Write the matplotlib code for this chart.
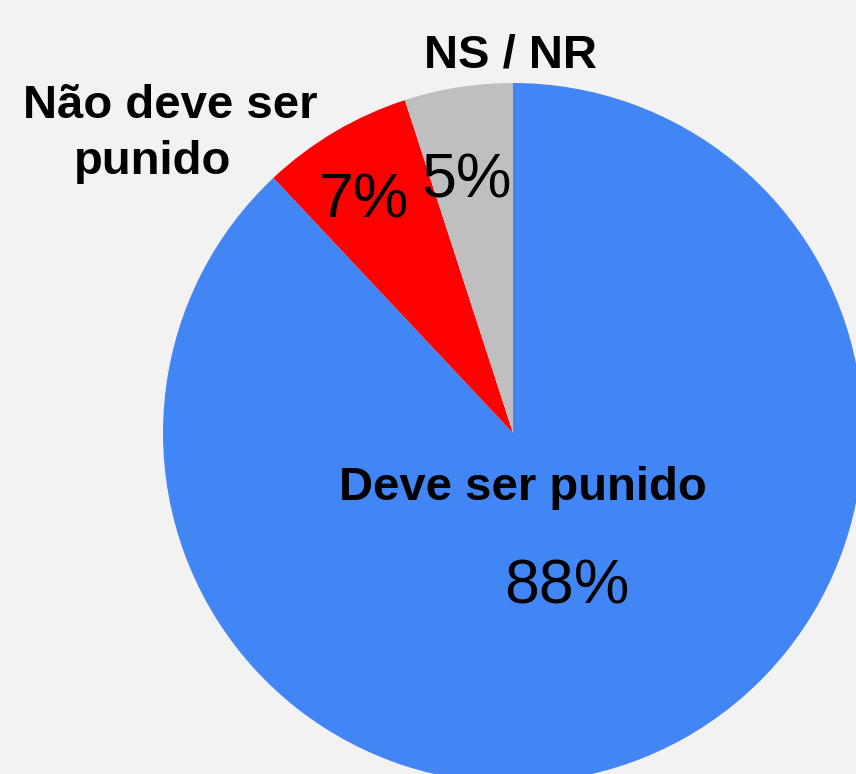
import matplotlib
matplotlib.use("Agg")
import matplotlib.pyplot as plt

# Dados da pesquisa (ordem horária a partir do topo)
categorias = ["Deve ser punido", "Não deve ser punido", "NS / NR"]
percentuais = [88, 7, 5]
cores = ["#4285F4", "#FF0000", "#BFBFBF"]

W, H = 856, 774
plt.rcParams["font.family"] = ["Liberation Sans", "DejaVu Sans"]

fig = plt.figure(figsize=(W / 100, H / 100), dpi=100)
fig.patch.set_facecolor("#F2F2F2")
ax = fig.add_axes([0, 0, 1, 1])

# centro e raio em pixels (y contado de baixo)
cx, cy, r = 513, H - 433, 350
ax.pie(percentuais, colors=cores, startangle=90, counterclock=False,
       center=(cx, cy), radius=r, wedgeprops=dict(linewidth=0))
ax.set_xlim(0, W)
ax.set_ylim(0, H)
ax.set_aspect("equal")
ax.axis("off")


def texto(x, y_top, s, size, bold):
    ax.text(x, H - y_top, s, ha="center", va="baseline", fontsize=size,
            fontweight="bold" if bold else "normal", color="black")


# rótulos das categorias
texto(511, 68, categorias[2], 34, True)
texto(170, 118, "Não deve ser", 34, True)
texto(153, 174, "punido", 34, True)
texto(523, 500, categorias[0], 34, True)

# percentuais
texto(567, 603, f"{percentuais[0]}%", 45, False)
texto(364, 217, f"{percentuais[1]}%", 45, False)
texto(467, 198, f"{percentuais[2]}%", 45, False)

fig.savefig("out.png", dpi=100, facecolor=fig.get_facecolor())
